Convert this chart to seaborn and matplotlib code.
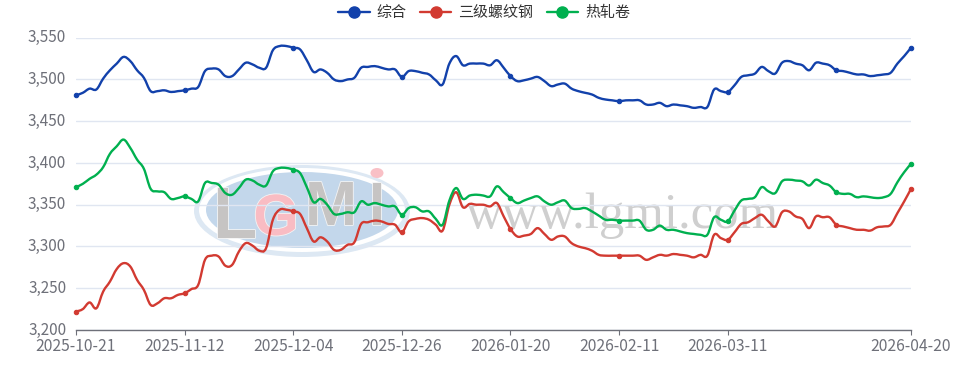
import matplotlib
matplotlib.use("Agg")
import matplotlib.pyplot as plt
import matplotlib.patheffects as pe
import numpy as np
import pandas as pd
import seaborn as sns
from matplotlib.lines import Line2D
from matplotlib.patches import Ellipse, PathPatch
from matplotlib.path import Path
from matplotlib.transforms import Affine2D, ScaledTranslation

composite = [
    3481, 3484, 3489, 3488, 3501, 3511, 3519, 3527, 3522, 3511, 3502, 3486, 3486, 3487, 3485, 3486,
    3487, 3489, 3491, 3510, 3513, 3512, 3504, 3504, 3512, 3520, 3518, 3514, 3514, 3535, 3540, 3540,
    3538, 3536, 3523, 3509, 3512, 3508, 3500, 3498, 3500, 3502, 3514, 3515, 3516, 3514, 3512, 3512,
    3503, 3510, 3510, 3508, 3506, 3499, 3494, 3519, 3528, 3517, 3519, 3519, 3519, 3517, 3523, 3514,
    3504, 3498, 3499, 3501, 3503, 3498, 3492, 3494, 3495, 3489, 3486, 3484, 3482, 3478, 3476, 3475,
    3474, 3475, 3475, 3475, 3470, 3470, 3472, 3468, 3470, 3469, 3468, 3466, 3467, 3467, 3488, 3486,
    3485, 3493, 3503, 3505, 3507, 3515, 3510, 3507, 3520, 3522, 3519, 3517, 3511, 3520, 3519, 3517,
    3511, 3510, 3508, 3506, 3506, 3504, 3505, 3506, 3508, 3519, 3528, 3538,
]
rebar = [
    3222, 3225, 3233, 3226, 3246, 3258, 3273, 3280, 3276, 3260, 3248, 3230, 3232, 3238, 3238, 3242,
    3244, 3249, 3254, 3284, 3289, 3288, 3277, 3278, 3294, 3304, 3301, 3295, 3298, 3332, 3344, 3344,
    3342, 3339, 3322, 3306, 3311, 3306, 3296, 3296, 3302, 3305, 3327, 3329, 3331, 3330, 3327, 3326,
    3317, 3330, 3333, 3334, 3332, 3326, 3319, 3350, 3365, 3347, 3351, 3350, 3350, 3348, 3352, 3336,
    3321, 3312, 3313, 3315, 3322, 3315, 3308, 3312, 3312, 3304, 3300, 3298, 3295, 3290, 3289, 3289,
    3289, 3289, 3289, 3289, 3284, 3287, 3290, 3289, 3291, 3290, 3289, 3287, 3290, 3289, 3314, 3310,
    3308, 3317, 3327, 3329, 3334, 3338, 3330, 3324, 3341, 3342, 3336, 3333, 3322, 3336, 3335, 3335,
    3326, 3324, 3322, 3320, 3320, 3319, 3323, 3324, 3326, 3340, 3354, 3369,
]
hot_coil = [
    3371, 3375, 3381, 3386, 3395, 3411, 3420, 3428, 3418, 3404, 3393, 3369, 3366, 3365, 3357, 3358,
    3360, 3357, 3354, 3376, 3376, 3374, 3364, 3362, 3370, 3380, 3379, 3374, 3373, 3390, 3394, 3394,
    3392, 3388, 3371, 3353, 3357, 3350, 3339, 3339, 3341, 3341, 3354, 3350, 3352, 3350, 3348, 3348,
    3338, 3346, 3347, 3342, 3342, 3333, 3326, 3355, 3370, 3357, 3361, 3362, 3361, 3360, 3372, 3365,
    3358, 3352, 3355, 3358, 3360, 3354, 3350, 3353, 3355, 3346, 3345, 3346, 3342, 3337, 3332, 3332,
    3331, 3331, 3331, 3331, 3320, 3320, 3325, 3320, 3320, 3318, 3316, 3315, 3314, 3314, 3335, 3332,
    3330, 3343, 3355, 3357, 3359, 3371, 3366, 3364, 3378, 3380, 3379, 3378, 3373, 3380, 3376, 3373,
    3365, 3363, 3363, 3359, 3360, 3359, 3358, 3359, 3363, 3377, 3389, 3399,
]
series_names = ["综合", "三级螺纹钢", "热轧卷"]
series_colors = ["#1241AB", "#D23A31", "#00B04F"]
tick_pos = [0, 16, 32, 48, 64, 80, 96, 123]
tick_labels = ["2025-10-21", "2025-11-12", "2025-12-04", "2025-12-26",
               "2026-01-20", "2026-02-11", "2026-03-11", "2026-04-20"]
y_ticks = [3200, 3250, 3300, 3350, 3400, 3450, 3500, 3550]
marked = [0, 16, 32, 48, 64, 80, 96, 112, 123]

W, H = 962, 369
GREY = "#6E7079"


def smooth_path(x, y, k=0.18):
    # bezier through the data points, same idea as a "smooth" line in the original chart
    pts = np.column_stack([x, y]).astype(float)
    prev_pts = np.vstack([pts[0], pts[:-1]])
    next_pts = np.vstack([pts[1:], pts[-1]])
    slope = (next_pts - prev_pts) * k
    verts = [pts[0]]
    codes = [Path.MOVETO]
    for i in range(len(pts) - 1):
        verts += [pts[i] + slope[i], pts[i + 1] - slope[i + 1], pts[i + 1]]
        codes += [Path.CURVE4] * 3
    return Path(verts, codes)


sns.set_theme(style="white")
plt.rcParams["font.family"] = ["Noto Sans CJK SC", "DejaVu Sans"]

df = pd.DataFrame({
    "i": np.tile(np.arange(len(composite)), 3),
    "price": composite + rebar + hot_coil,
    "name": np.repeat(series_names, len(composite)),
})

fig = plt.figure(figsize=(W / 100, H / 100), dpi=100)
ax = fig.add_axes([76 / W, 1 - 330 / H, (911 - 76) / W, (330 - 37.7) / H])

# watermark sits under the lines, placed in image pixels
px = Affine2D().scale(1 / W, -1 / H).translate(0, 1) + fig.transFigure
ax.add_patch(Ellipse((302, 211), 216, 92, transform=px, fc="#DDE8F3", ec="none", clip_on=False, zorder=0.1))
ax.add_patch(Ellipse((302, 210), 206, 84, transform=px, fc="white", ec="none", clip_on=False, zorder=0.11))
ax.add_patch(Ellipse((302, 210), 192, 76, transform=px, fc="#C3D7EB", ec="none", clip_on=False, zorder=0.12))
ax.add_patch(Ellipse((377, 173), 13, 10, transform=px, fc="#F9C0C6", ec="none", clip_on=False, zorder=0.13))
logo_font = dict(transform=px, family="Liberation Sans", weight="bold", ha="center", va="baseline", zorder=0.14,
                 clip_on=False, path_effects=[pe.withStroke(linewidth=1.2, foreground="#F4F4F4")])
ax.text(235, 238, "L", color="#C6C4C3", fontsize=52, **logo_font)
ax.text(276, 235, "G", color="#F9BCC3", fontsize=42, **logo_font)
ax.text(331, 225, "M", color="#C6C4C3", fontsize=45, **logo_font)
ax.text(377, 225, "I", color="#C6C4C3", fontsize=44, **logo_font)
ax.text(622, 228, "www.lgmi.com", color="#CFCFCF", fontsize=36.5, family="Liberation Serif",
        transform=px, ha="center", va="baseline", zorder=0.14, clip_on=False)

sns.lineplot(data=df, x="i", y="price", hue="name", hue_order=series_names,
             palette=series_colors, linewidth=1.7, legend=False, errorbar=None, ax=ax)
for line, color in zip(ax.lines, series_colors):
    x, y = line.get_data()
    ax.add_patch(PathPatch(smooth_path(x, y), fc="none", ec=color, lw=1.7, clip_on=False, zorder=2,
                           joinstyle="round", capstyle="round"))
    # keep only the small dots from the seaborn line, the curve replaces the segments
    line.set_linestyle("None")
    line.set_marker("o")
    line.set_markevery(marked)
    line.set_markersize(3.2)
    line.set_markerfacecolor(color)
    line.set_markeredgecolor(color)
    line.set_clip_on(False)
    line.set_zorder(3)

ax.set_xlim(0, len(composite) - 1)
ax.set_ylim(3200, 3550)
ax.set_xlabel("")
ax.set_ylabel("")
ax.set_xticks(tick_pos)
ax.set_xticklabels(tick_labels)
ax.set_yticks(y_ticks)
ax.set_yticklabels([f"{v:,}" for v in y_ticks])
ax.grid(axis="y", color="#E0E6F1", linewidth=1)
ax.set_axisbelow(True)
ax.tick_params(axis="x", length=3.6, width=0.8, color=GREY, labelcolor=GREY, labelsize=11.3, pad=2.5, bottom=True)
ax.tick_params(axis="y", length=0, labelcolor=GREY, labelsize=11, pad=7)
# CJK font sits low in its box, nudge the value labels up
for label in ax.get_yticklabels():
    label.set_transform(label.get_transform() + ScaledTranslation(0, 2 / 100, fig.dpi_scale_trans))
for side in ["top", "left", "right"]:
    ax.spines[side].set_visible(False)
ax.spines["bottom"].set_color(GREY)
ax.spines["bottom"].set_linewidth(1)

handles = [Line2D([], [], color=c, lw=1.7, marker="o", markersize=8) for c in series_colors]
fig.legend(handles, series_names, loc="center", bbox_to_anchor=(484 / W, 1 - 13 / H), ncol=3,
           frameon=False, fontsize=10.8, handlelength=2.1, handletextpad=0.45, columnspacing=0.9,
           labelcolor="#333333", borderpad=0, borderaxespad=0)

fig.savefig("out.png", dpi=100)
plt.close(fig)
